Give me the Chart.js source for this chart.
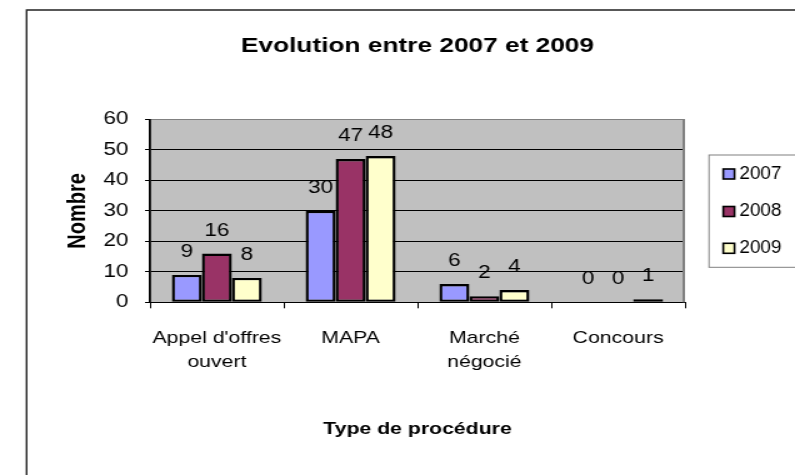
<!DOCTYPE html>
<html>
<head>
<meta charset="utf-8">
<script src="https://cdn.jsdelivr.net/npm/chart.js@4/dist/chart.umd.min.js"></script>
<style>
  html, body { margin: 0; padding: 0; background: #fff; overflow: hidden; }
  /* le graphique d'origine est étiré horizontalement */
  #cadre { width: 636px; height: 475px; transform: scaleX(1.25); transform-origin: 0 0; }
</style>
</head>
<body>
<div id="cadre"><canvas id="grafico" width="636" height="475"></canvas></div>
<script>
const categories = [["Appel d'offres", 'ouvert'], 'MAPA', ['Marché', 'négocié'], 'Concours'];
const annees = ['2007', '2008', '2009'];
const valeurs2007 = [9, 30, 6, 0];
const valeurs2008 = [16, 47, 2, 0];
const valeurs2009 = [8, 48, 4, 1];
const couleurs = ['#9999FF', '#993366', '#FFFFCC'];
const graduations = [0, 10, 20, 30, 40, 50, 60];

const police = "'Liberation Sans', Arial, sans-serif";

// fond gris de la zone de traçage + cadre extérieur
const fondPlugin = {
  id: 'fond',
  beforeDraw(chart) {
    const { ctx, chartArea: a } = chart;
    ctx.save();
    ctx.fillStyle = '#C0C0C0';
    ctx.fillRect(a.left, a.top, a.right - a.left, a.bottom - a.top);
    ctx.strokeStyle = '#222';
    ctx.lineWidth = 1.4;
    ctx.beginPath();
    ctx.moveTo(21.3, 480);
    ctx.lineTo(21.3, 10);
    ctx.lineTo(640, 10);
    ctx.stroke();
    ctx.restore();
  },
  afterDatasetsDraw(chart) {
    const { ctx, chartArea: a } = chart;
    ctx.save();
    ctx.strokeStyle = '#808080';
    ctx.lineWidth = 2;
    ctx.beginPath();
    ctx.moveTo(a.right - 1, a.top);
    ctx.lineTo(a.right - 1, a.bottom);
    ctx.stroke();

    // étiquettes de valeurs au-dessus des barres
    ctx.fillStyle = '#000';
    ctx.font = '18px ' + police;
    ctx.textAlign = 'center';
    ctx.textBaseline = 'middle';
    chart.data.datasets.forEach((ds, i) => {
      chart.getDatasetMeta(i).data.forEach((bar, j) => {
        ctx.fillText(String(ds.data[j]), bar.x, bar.y - 23);
      });
    });
    ctx.restore();
  }
};

// légende encadrée façon Excel
const legendePlugin = {
  id: 'legendeExcel',
  afterDraw(chart) {
    const { ctx } = chart;
    ctx.save();
    ctx.fillStyle = '#fff';
    ctx.fillRect(567.2, 155, 80, 112.3);
    ctx.strokeStyle = '#808080';
    ctx.lineWidth = 1;
    ctx.strokeRect(567.2, 155, 80, 112.3);
    const lignes = [174, 211.5, 248.3];
    chart.data.datasets.forEach((ds, i) => {
      const y = lignes[i];
      ctx.fillStyle = ds.backgroundColor;
      ctx.fillRect(578.6, y - 5, 9, 10);
      ctx.strokeStyle = '#000';
      ctx.lineWidth = 1.6;
      ctx.strokeRect(578.6, y - 5, 9, 10);
      ctx.save();
      ctx.translate(591.5, y);
      ctx.scale(0.84, 1);
      ctx.fillStyle = '#000';
      ctx.font = '18px ' + police;
      ctx.textAlign = 'left';
      ctx.textBaseline = 'middle';
      ctx.fillText(ds.label, 0, 0);
      ctx.restore();
    });
    ctx.restore();
  }
};

new Chart(document.getElementById('grafico'), {
  type: 'bar',
  data: {
    labels: categories,
    datasets: [
      { label: annees[0], data: valeurs2007, backgroundColor: couleurs[0] },
      { label: annees[1], data: valeurs2008, backgroundColor: couleurs[1] },
      { label: annees[2], data: valeurs2009, backgroundColor: couleurs[2] }
    ].map(d => Object.assign(d, {
      borderColor: '#000',
      borderWidth: 2.4,
      borderSkipped: false,
      categoryPercentage: 0.673,
      barPercentage: 1
    }))
  },
  options: {
    responsive: false,
    animation: false,
    events: [],
    layout: { padding: { left: 30, right: 88, top: 0, bottom: 0 } },
    plugins: {
      legend: { display: false },
      tooltip: { enabled: false },
      title: {
        display: true,
        fullSize: false,
        text: 'Evolution entre 2007 et 2009',
        color: '#000',
        font: { family: police, size: 21, weight: 'bold', lineHeight: 1.2 },
        padding: { top: 33.4, bottom: 60.9 }
      }
    },
    scales: {
      x: {
        grid: { drawOnChartArea: false, drawTicks: true, tickLength: 6, color: '#000' },
        border: { color: '#000', width: 1 },
        ticks: {
          color: '#000',
          padding: 17.4,
          maxRotation: 0,
          autoSkip: false,
          font: { family: police, size: 17, lineHeight: 1.45 }
        },
        title: {
          display: true,
          text: 'Type de procédure',
          color: '#000',
          font: { family: police, size: 17, weight: 'bold', lineHeight: 1.2 },
          padding: { top: 0, bottom: 35.8 }
        },
        afterFit(scale) { scale.height = 172.7; }
      },
      y: {
        min: graduations[0],
        max: graduations[graduations.length - 1],
        ticks: {
          stepSize: graduations[1] - graduations[0],
          color: '#000',
          padding: 13.3,
          font: { family: police, size: 18 }
        },
        grid: {
          color: c => (c.tick && c.tick.value === graduations[graduations.length - 1]) ? '#808080' : '#000',
          lineWidth: 1,
          tickLength: 4,
          tickColor: '#000'
        },
        border: { color: '#000', width: 1.8 },
        title: {
          display: true,
          text: 'Nombre',
          color: '#000',
          font: { family: police, size: 20, weight: 'bold', lineHeight: 1.2 },
          padding: { top: 20, bottom: 0 }
        },
        afterFit(scale) { scale.width = 90; }
      }
    }
  },
  plugins: [fondPlugin, legendePlugin]
});
</script>
</body>
</html>
